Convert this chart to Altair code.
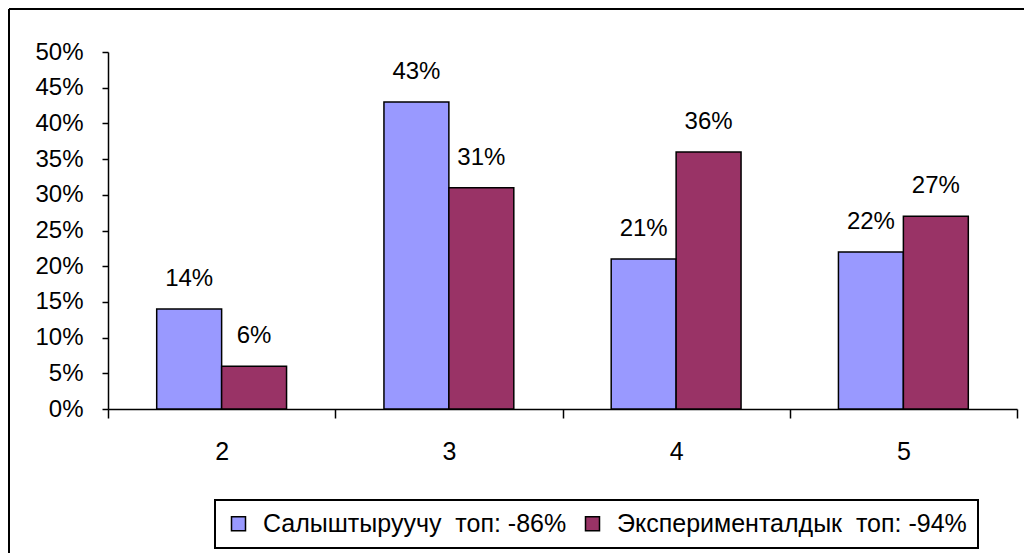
import altair as alt
import pandas as pd

categories = ["2", "3", "4", "5"]
series_names = ["Салыштыруучу\u00a0 топ: -86%", "Эксперименталдык\u00a0 топ: -94%"]
control_values = [0.14, 0.43, 0.21, 0.22]
experimental_values = [0.06, 0.31, 0.36, 0.27]
y_ticks = [0, 0.05, 0.10, 0.15, 0.20, 0.25, 0.30, 0.35, 0.40, 0.45, 0.50]
colors = ["#9999FF", "#993366"]

rows = []
for c, v in zip(categories, control_values):
    rows.append({"cat": c, "series": series_names[0], "value": v})
for c, v in zip(categories, experimental_values):
    rows.append({"cat": c, "series": series_names[1], "value": v})
df = pd.DataFrame(rows)

FONT = "Liberation Sans, Arial, sans-serif"

base = alt.Chart(df).encode(
    x=alt.X(
        "cat:N",
        sort=categories,
        scale=alt.Scale(paddingInner=0, paddingOuter=0),
        axis=alt.Axis(
            title=None, labelAngle=0, tickBand="extent", tickSize=9,
            labelPadding=21, labelFontSize=25,
        ),
    ),
    xOffset=alt.XOffset("series:N", sort=series_names,
                        scale=alt.Scale(paddingInner=0, paddingOuter=0.75)),
    y=alt.Y(
        "value:Q",
        scale=alt.Scale(domain=[0, 0.5], nice=False),
        axis=alt.Axis(
            title=None, format=".0%", values=y_ticks, grid=False,
            tickSize=6, labelPadding=19, labelFontSize=24,
        ),
    ),
)

bars = base.mark_bar(stroke="black", strokeWidth=1.5).encode(
    color=alt.Color(
        "series:N",
        sort=series_names,
        scale=alt.Scale(domain=series_names, range=colors),
        legend=alt.Legend(
            title=None, orient="none", legendX=107, legendY=448,
            direction="horizontal", labelLimit=0,
        ),
    )
)

labels = base.mark_text(
    dy=-23, baseline="alphabetic", fontSize=24, font=FONT, color="black"
).encode(text=alt.Text("value:Q", format=".0%"))

one = pd.DataFrame({"a": [0]})
frame_top = alt.Chart(one).mark_rule(color="black", strokeWidth=2).encode(
    x=alt.value(-99), x2=alt.value(1100), y=alt.value(-43)
)
frame_left = alt.Chart(one).mark_rule(color="black", strokeWidth=2).encode(
    x=alt.value(-99), y=alt.value(-43), y2=alt.value(700)
)

chart = alt.layer(frame_top, frame_left, bars, labels).properties(
    width=909,
    height=357,
    autosize=alt.AutoSizeParams(type="none"),
    padding={"left": 100, "top": 44, "right": 7, "bottom": 144},
    background="white",
).configure_view(stroke=None).configure_axis(
    domainColor="black", domainWidth=1.5, tickColor="black", tickWidth=1.5,
    labelColor="black", labelFont=FONT,
).configure_legend(
    labelFont=FONT, labelFontSize=25, labelColor="black",
    symbolType="square", symbolSize=196, symbolStrokeColor="black",
    symbolStrokeWidth=1.5, labelOffset=12, columnPadding=13,
    padding=11, strokeColor="black", strokeWidth=2, fillColor="white",
    symbolOpacity=1,
)

chart.save("out.html", embed_options={"renderer": "svg", "actions": False})
